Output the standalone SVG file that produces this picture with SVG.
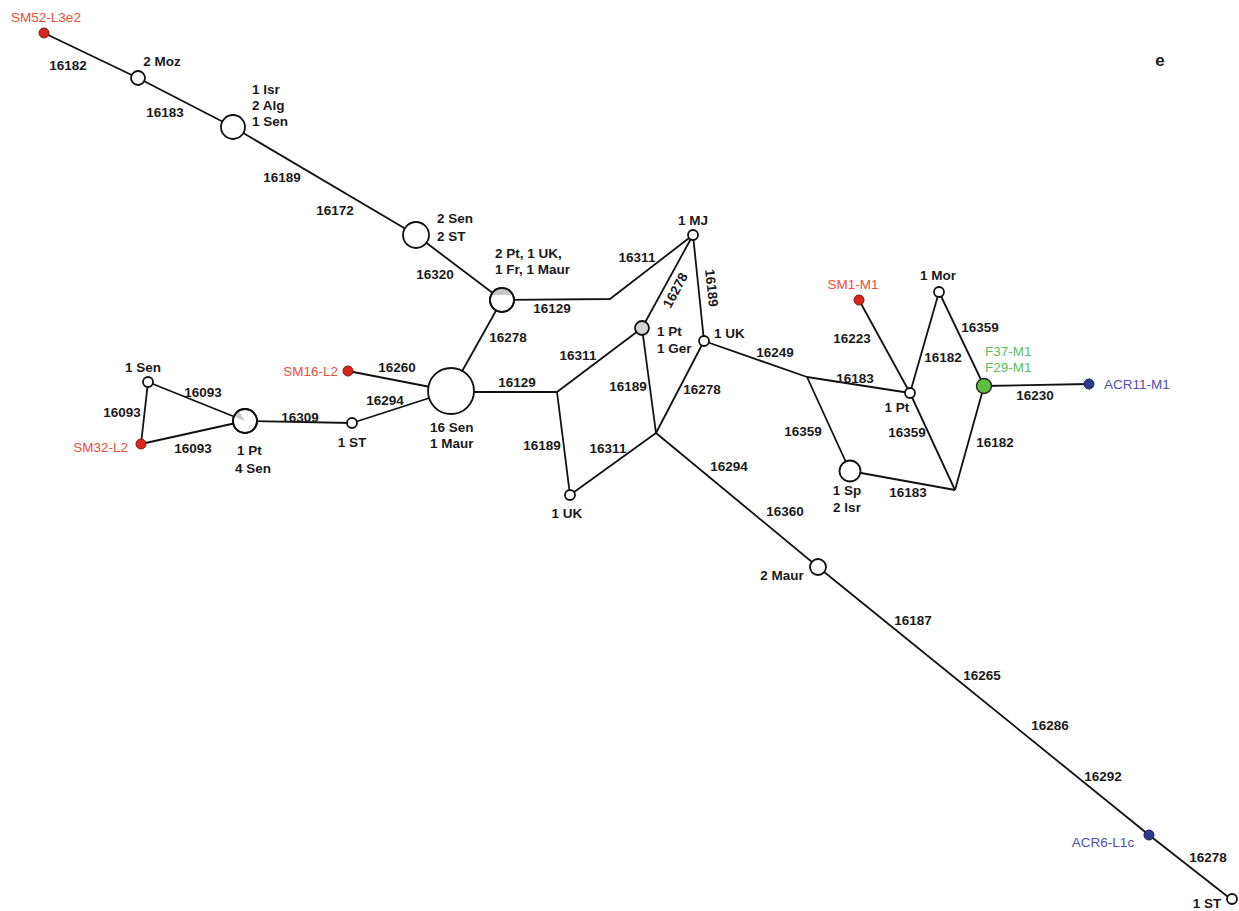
<svg xmlns="http://www.w3.org/2000/svg" width="1239" height="911" viewBox="0 0 1239 911">
<style>
.bg{fill:#ffffff}
.e{fill:none;stroke:#111;stroke-width:1.8;stroke-linejoin:round}
.n{fill:#fff;stroke:#111;stroke-width:1.8}
.gray{fill:#c8c8c8;stroke:none}
.t{font-family:"Liberation Sans",Arial,sans-serif;font-size:13.5px;font-weight:bold;fill:#1a1a1a}
.m{text-anchor:middle}
.s{text-anchor:start}
.r{text-anchor:end}
.red{fill:#e8503a;font-weight:normal}
.green{fill:#5cbf5c;font-weight:normal}
.blue{fill:#5050b0;font-weight:normal}
.rd{fill:#d8261c;stroke:#7a1a10;stroke-width:1}
.gd{fill:#5cc03a;stroke:#222;stroke-width:1.4}
.bd{fill:#2c3c8c;stroke:#1a2050;stroke-width:1}
</style>
<rect class="bg" x="0" y="0" width="1239" height="911"/>
<g id="connectors">
<line class="e" x1="44" y1="33" x2="138" y2="78"/>
<line class="e" x1="138" y1="78" x2="233" y2="127"/>
<line class="e" x1="233" y1="127" x2="416" y2="235"/>
<line class="e" x1="416" y1="235" x2="502" y2="300"/>
<line class="e" x1="502" y1="300" x2="451" y2="391"/>
<polyline class="e" points="502,300 610,299 693,235"/>
<line class="e" x1="451" y1="392" x2="557" y2="392"/>
<line class="e" x1="557" y1="392" x2="642" y2="328"/>
<line class="e" x1="557" y1="392" x2="570" y2="495"/>
<line class="e" x1="570" y1="495" x2="656" y2="433"/>
<line class="e" x1="642" y1="328" x2="693" y2="235"/>
<line class="e" x1="642" y1="328" x2="656" y2="433"/>
<line class="e" x1="693" y1="235" x2="704" y2="341"/>
<line class="e" x1="704" y1="341" x2="656" y2="433"/>
<line class="e" x1="656" y1="433" x2="818" y2="567"/>
<line class="e" x1="818" y1="567" x2="1149" y2="835"/>
<line class="e" x1="1149" y1="835" x2="1232" y2="900"/>
<line class="e" x1="451" y1="391" x2="348" y2="371"/>
<line class="e" x1="451" y1="391" x2="352" y2="423"/>
<line class="e" x1="352" y1="423" x2="245" y2="421"/>
<line class="e" x1="245" y1="421" x2="148" y2="382"/>
<line class="e" x1="245" y1="421" x2="141" y2="444"/>
<line class="e" x1="148" y1="382" x2="141" y2="444"/>
<line class="e" x1="704" y1="341" x2="807" y2="377"/>
<line class="e" x1="807" y1="377" x2="910" y2="393"/>
<line class="e" x1="807" y1="377" x2="850" y2="471"/>
<line class="e" x1="859" y1="300" x2="910" y2="393"/>
<line class="e" x1="910" y1="393" x2="939" y2="292"/>
<line class="e" x1="939" y1="292" x2="984" y2="386"/>
<line class="e" x1="910" y1="393" x2="955" y2="490"/>
<line class="e" x1="984" y1="386" x2="955" y2="490"/>
<line class="e" x1="850" y1="471" x2="955" y2="490"/>
<line class="e" x1="984" y1="386" x2="1089" y2="384"/>
</g>
<g id="edge-labels" class="t m">
<text x="68" y="70">16182</text>
<text x="165" y="117">16183</text>
<text x="282" y="182">16189</text>
<text x="335" y="215">16172</text>
<text x="435" y="279">16320</text>
<text x="552" y="313">16129</text>
<text x="637" y="262">16311</text>
<text transform="translate(675,290) rotate(-62)" x="0" y="5">16278</text>
<text transform="translate(712,288) rotate(84)" x="0" y="5">16189</text>
<text x="508" y="342">16278</text>
<text x="578" y="360">16311</text>
<text x="517" y="387">16129</text>
<text x="628" y="391">16189</text>
<text x="702" y="394">16278</text>
<text x="542" y="450">16189</text>
<text x="608" y="453">16311</text>
<text x="729" y="471">16294</text>
<text x="785" y="516">16360</text>
<text x="913" y="625">16187</text>
<text x="982" y="680">16265</text>
<text x="1050" y="730">16286</text>
<text x="1103" y="781">16292</text>
<text x="1208" y="862">16278</text>
<text x="397" y="372">16260</text>
<text x="385" y="405">16294</text>
<text x="300" y="422">16309</text>
<text x="203" y="397">16093</text>
<text x="122" y="417">16093</text>
<text x="193" y="453">16093</text>
<text x="775" y="357">16249</text>
<text x="855" y="383">16183</text>
<text x="852" y="343">16223</text>
<text x="943" y="362">16182</text>
<text x="980" y="332">16359</text>
<text x="1035" y="400">16230</text>
<text x="803" y="436">16359</text>
<text x="907" y="437">16359</text>
<text x="995" y="447">16182</text>
<text x="908" y="497">16183</text>
</g>
<g id="node-SM52">
<circle class="rd" cx="44" cy="33" r="5"/>
<text class="t m red" x="46" y="22">SM52-L3e2</text>
</g>
<g id="node-2Moz">
<circle class="n" cx="138" cy="78" r="7"/>
<text class="t m" x="162" y="66">2 Moz</text>
</g>
<g id="node-IsrAlgSen">
<circle class="n" cx="233" cy="127" r="12"/>
<text class="t s" x="252" y="94">1 Isr</text>
<text class="t s" x="252" y="110">2 Alg</text>
<text class="t s" x="252" y="126">1 Sen</text>
</g>
<g id="node-2Sen2ST">
<circle class="n" cx="416" cy="235" r="13"/>
<text class="t s" x="437" y="223">2 Sen</text>
<text class="t s" x="437" y="241">2 ST</text>
</g>
<g id="node-2Pt">
<circle class="n" cx="502" cy="300" r="12"/>
<path class="gray" d="M491.5,295 A11,11 0 0 1 512.5,295 Z"/>
<circle cx="502" cy="300" r="12" fill="none" stroke="#111" stroke-width="1.8"/>
<text class="t s" x="495" y="258">2 Pt, 1 UK,</text>
<text class="t s" x="495" y="274">1 Fr, 1 Maur</text>
</g>
<g id="node-16Sen">
<circle class="n" cx="451" cy="391" r="23"/>
<text class="t s" x="430" y="432">16 Sen</text>
<text class="t s" x="430" y="448">1 Maur</text>
</g>
<g id="node-SM16">
<circle class="rd" cx="348" cy="371" r="5"/>
<text class="t r red" x="338" y="376">SM16-L2</text>
</g>
<g id="node-1ST-left">
<circle class="n" cx="352" cy="423" r="5"/>
<text class="t m" x="352" y="447">1 ST</text>
</g>
<g id="node-1Pt4Sen">
<circle class="n" cx="245" cy="421" r="12"/>
<path class="gray" d="M245,421 L235,417 A11,11 0 0 1 239,411.5 Z"/>
<circle cx="245" cy="421" r="12" fill="none" stroke="#111" stroke-width="1.8"/>
<text class="t s" x="237" y="455">1 Pt</text>
<text class="t s" x="235" y="473">4 Sen</text>
</g>
<g id="node-1Sen">
<circle class="n" cx="148" cy="382" r="5"/>
<text class="t s" x="125" y="372">1 Sen</text>
</g>
<g id="node-SM32">
<circle class="rd" cx="141" cy="444" r="5"/>
<text class="t r red" x="128" y="452">SM32-L2</text>
</g>
<g id="node-1MJ">
<circle class="n" cx="693" cy="235" r="5"/>
<text class="t m" x="693" y="225">1 MJ</text>
</g>
<g id="node-1Pt1Ger">
<circle class="n" cx="642" cy="328" r="7" style="fill:#d4d4d4"/>
<text class="t s" x="657" y="336">1 Pt</text>
<text class="t s" x="657" y="353">1 Ger</text>
</g>
<g id="node-1UK-right">
<circle class="n" cx="704" cy="341" r="5"/>
<text class="t s" x="714" y="338">1 UK</text>
</g>
<g id="node-1UK-bottom">
<circle class="n" cx="570" cy="495" r="5"/>
<text class="t m" x="567" y="518">1 UK</text>
</g>
<g id="node-SM1">
<circle class="rd" cx="859" cy="300" r="5"/>
<text class="t m red" x="853" y="289">SM1-M1</text>
</g>
<g id="node-1Mor">
<circle class="n" cx="939" cy="292" r="5"/>
<text class="t m" x="938" y="280">1 Mor</text>
</g>
<g id="node-1Pt-right">
<circle class="n" cx="910" cy="393" r="5"/>
<text class="t m" x="897" y="412">1 Pt</text>
</g>
<g id="node-F37F29">
<circle class="gd" cx="984" cy="386" r="7.5"/>
<text class="t s green" x="985" y="356">F37-M1</text>
<text class="t s green" x="985" y="372">F29-M1</text>
</g>
<g id="node-ACR11">
<circle class="bd" cx="1089" cy="384" r="5"/>
<text class="t s blue" x="1104" y="389">ACR11-M1</text>
</g>
<g id="node-1Sp2Isr">
<circle class="n" cx="850" cy="471" r="10.5"/>
<text class="t m" x="847" y="495">1 Sp</text>
<text class="t m" x="847" y="512">2 Isr</text>
</g>
<g id="node-2Maur">
<circle class="n" cx="818" cy="567" r="8"/>
<text class="t m" x="782" y="580">2 Maur</text>
</g>
<g id="node-ACR6">
<circle class="bd" cx="1149" cy="835" r="5"/>
<text class="t m blue" x="1103" y="847">ACR6-L1c</text>
</g>
<g id="node-1ST-bottom">
<circle class="n" cx="1232" cy="899" r="5"/>
<text class="t m" x="1207" y="908">1 ST</text>
</g>
<text class="t m" x="1160" y="66" style="font-size:17px">e</text>
</svg>
